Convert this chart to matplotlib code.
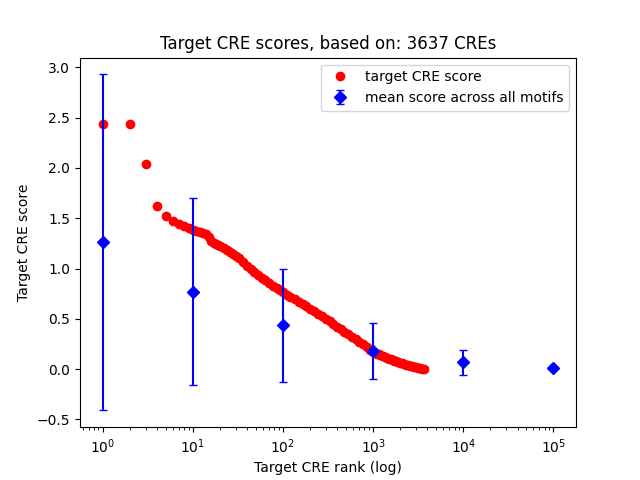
import matplotlib
matplotlib.use("Agg")
import matplotlib.pyplot as plt

# target CRE score by rank
ranks = [1, 2, 3, 4, 5, 6, 7, 8, 9, 10, 11, 12, 13, 14, 15, 16, 17, 18, 19, 20,
         22, 24, 26, 28, 30, 33, 36, 40, 44, 48, 53, 58, 64, 70, 77, 85, 93, 100,
         110, 120, 135, 150, 165, 180, 200, 220, 245, 270, 300, 330, 360, 400,
         440, 480, 530, 580, 640, 700, 770, 850, 930, 1000, 1050, 1100, 1150,
         1200, 1275, 1350, 1425, 1500, 1575, 1650, 1725, 1800, 1900, 2000, 2100,
         2200, 2325, 2450, 2575, 2700, 2850, 3000, 3150, 3300, 3450, 3637]
scores = [2.44, 2.44, 2.04, 1.62, 1.52, 1.47, 1.44, 1.42, 1.40, 1.38, 1.37, 1.36,
          1.35, 1.34, 1.31, 1.27, 1.25, 1.24, 1.23, 1.22,
          1.20, 1.18, 1.16, 1.14, 1.12, 1.10, 1.07, 1.03, 1.00, 0.97, 0.94, 0.91,
          0.89, 0.86, 0.83, 0.81, 0.79, 0.77,
          0.74, 0.72, 0.70, 0.67, 0.65, 0.63, 0.60, 0.58, 0.55, 0.53, 0.50, 0.48,
          0.45, 0.42, 0.40, 0.37, 0.35, 0.32, 0.30, 0.27, 0.25, 0.22, 0.19, 0.17,
          0.162, 0.155, 0.147, 0.14, 0.13, 0.12, 0.112, 0.105, 0.097, 0.09, 0.085,
          0.08, 0.072, 0.065, 0.058, 0.05, 0.045, 0.04, 0.035, 0.03, 0.025, 0.02,
          0.015, 0.01, 0.005, 0.0]

# mean score across all motifs, with std error bars
motif_ranks = [1, 10, 100, 1000, 10000, 100000]
motif_means = [1.26, 0.77, 0.435, 0.18, 0.067, 0.007]
motif_errs = [1.67, 0.93, 0.565, 0.275, 0.125, 0.004]

fig, ax = plt.subplots(figsize=(6.4, 4.8), dpi=100)
ax.plot(ranks, scores, "ro", label="target CRE score")
ax.errorbar(motif_ranks, motif_means, yerr=motif_errs, fmt="bD", capsize=3,
            label="mean score across all motifs")
ax.set_xscale("log")
ax.set_title("Target CRE scores, based on: 3637 CREs")
ax.set_xlabel("Target CRE rank (log)")
ax.set_ylabel("Target CRE score")
ax.legend(loc="upper right")
fig.savefig("out.png")
